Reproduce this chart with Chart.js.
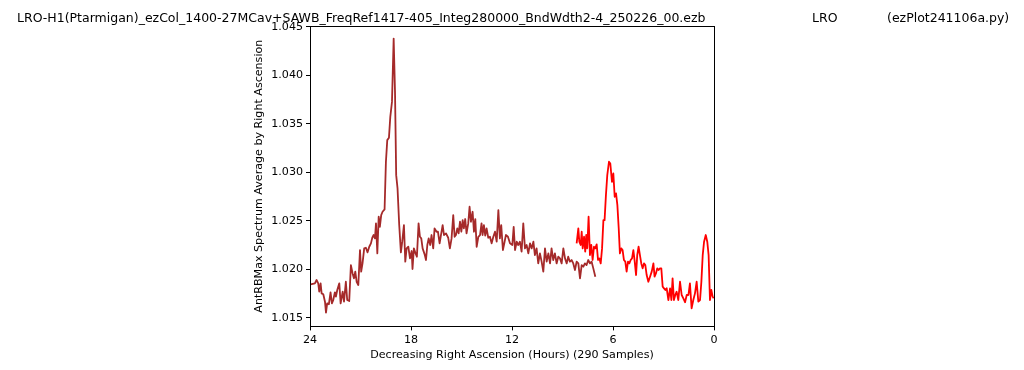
<!DOCTYPE html>
<html>
<head>
<meta charset="utf-8">
<script src="https://cdn.jsdelivr.net/npm/chart.js"></script>
<style>
  html, body { margin: 0; padding: 0; background: #fff; }
  #wrap { width: 1024px; height: 370px; }
</style>
</head>
<body>
<div id="wrap"><canvas id="raChart" width="1024" height="370"></canvas></div>
<script>
// Figure title pieces
const titleMain = 'LRO-H1(Ptarmigan)_ezCol_1400-27MCav+SAWB_FreqRef1417-405_Integ280000_BndWdth2-4_250226_00.ezb';
const titleSite = 'LRO';
const titleScript = '(ezPlot241106a.py)';

const xTicks = [24, 18, 12, 6, 0];
const yTicks = [1.015, 1.020, 1.025, 1.030, 1.035, 1.040, 1.045];

// Brown trace (hours, value)
const brownHours = [
  23.96, 23.71, 23.61, 23.51, 23.45, 23.37, 23.31, 23.21, 23.11, 23.05,
  22.98, 22.88, 22.78, 22.70, 22.62, 22.52, 22.46, 22.38, 22.26, 22.18,
  22.06, 21.98, 21.87, 21.79, 21.67, 21.57, 21.47, 21.39, 21.31, 21.23,
  21.13, 21.03, 20.96, 20.88, 20.78, 20.68, 20.58, 20.48, 20.38, 20.30,
  20.22, 20.14, 20.08, 20.00, 19.92, 19.85, 19.77, 19.69, 19.57, 19.49,
  19.41, 19.31, 19.23, 19.13, 19.03, 18.95, 18.88, 18.80, 18.70, 18.60,
  18.52, 18.42, 18.34, 18.26, 18.16, 18.06, 17.96, 17.91, 17.83, 17.73,
  17.65, 17.55, 17.47, 17.39, 17.31, 17.19, 17.11, 17.03, 16.95, 16.86,
  16.78, 16.68, 16.60, 16.48, 16.40, 16.30, 16.22, 16.12, 16.04, 15.92,
  15.79, 15.69, 15.59, 15.49, 15.41, 15.33, 15.25, 15.17, 15.09, 15.01,
  14.93, 14.86, 14.78, 14.70, 14.60, 14.52, 14.44, 14.34, 14.26, 14.18,
  14.10, 14.00, 13.90, 13.81, 13.75, 13.67, 13.59, 13.51, 13.41, 13.31,
  13.21, 13.11, 13.01, 12.91, 12.81, 12.72, 12.64, 12.54, 12.44, 12.36,
  12.24, 12.12, 11.98, 11.90, 11.82, 11.72, 11.63, 11.53, 11.43, 11.33,
  11.23, 11.13, 11.03, 10.93, 10.83, 10.73, 10.64, 10.54, 10.44, 10.34,
  10.24, 10.14, 10.04, 9.94, 9.84, 9.74, 9.65, 9.55, 9.45, 9.35,
  9.25, 9.15, 9.05, 8.95, 8.85, 8.75, 8.66, 8.56, 8.46, 8.36,
  8.26, 8.16, 8.06, 7.96, 7.86, 7.76, 7.67, 7.57, 7.47, 7.37,
  7.27, 7.17, 7.05
];
const brownValues = [
  1.01844, 1.01854, 1.01889, 1.01854, 1.01768, 1.01854, 1.01751, 1.01741, 1.01665, 1.01552,
  1.01648, 1.01638, 1.01762, 1.01648, 1.01682, 1.01762, 1.01717, 1.01786, 1.01854, 1.01648,
  1.01768, 1.01665, 1.01871, 1.01682, 1.01672, 1.02043, 1.01957, 1.01906, 1.01975, 1.01871,
  1.01837, 1.02198, 1.01975, 1.02060, 1.02215, 1.02222, 1.02174, 1.02232, 1.02267, 1.02325,
  1.02353, 1.02318, 1.02473, 1.02164, 1.02542, 1.02438, 1.02559, 1.02593, 1.02617, 1.03109,
  1.03332, 1.03356, 1.03572, 1.03727, 1.04380, 1.03830, 1.02971, 1.02834, 1.02456, 1.02174,
  1.02284, 1.02456, 1.02078, 1.02215, 1.02232, 1.02112, 1.02188, 1.02002, 1.02215, 1.02164,
  1.02129, 1.02473, 1.02335, 1.02318, 1.02215, 1.02153, 1.02095, 1.02250, 1.02318, 1.02250,
  1.02353, 1.02215, 1.02421, 1.02387, 1.02387, 1.02267, 1.02353, 1.02456, 1.02353, 1.02370,
  1.02325, 1.02215, 1.02318, 1.02559, 1.02335, 1.02353, 1.02421, 1.02370, 1.02490, 1.02387,
  1.02507, 1.02421, 1.02518, 1.02370, 1.02473, 1.02645, 1.02490, 1.02593, 1.02387, 1.02518,
  1.02232, 1.02335, 1.02353, 1.02473, 1.02353, 1.02456, 1.02346, 1.02421, 1.02325, 1.02335,
  1.02267, 1.02335, 1.02387, 1.02284, 1.02610, 1.02318, 1.02456, 1.02198, 1.02284, 1.02353,
  1.02335, 1.02267, 1.02250, 1.02438, 1.02198, 1.02284, 1.02250, 1.02284, 1.02181, 1.02473,
  1.02215, 1.02250, 1.02164, 1.02267, 1.02215, 1.02284, 1.02146, 1.02215, 1.02060, 1.02164,
  1.02078, 1.01975, 1.02215, 1.02078, 1.02164, 1.02060, 1.02215, 1.02095, 1.02164, 1.02060,
  1.02129, 1.02112, 1.02060, 1.02215, 1.02112, 1.02060, 1.02129, 1.02078, 1.02095, 1.02060,
  1.01992, 1.02078, 1.02060, 1.01906, 1.02043, 1.02026, 1.02060, 1.02043, 1.02095, 1.02060,
  1.02078, 1.02009, 1.01923
];

// Red trace (hours, value)
const redHours = [
  8.16, 8.06, 8.00, 7.92, 7.86, 7.80, 7.72, 7.65, 7.59, 7.53,
  7.45, 7.37, 7.29, 7.21, 7.13, 7.05, 6.97, 6.89, 6.81, 6.73,
  6.65, 6.57, 6.50, 6.42, 6.34, 6.24, 6.16, 6.06, 5.98, 5.90,
  5.82, 5.74, 5.66, 5.59, 5.51, 5.43, 5.35, 5.27, 5.19, 5.11,
  5.03, 4.95, 4.87, 4.79, 4.71, 4.63, 4.56, 4.48, 4.40, 4.32,
  4.24, 4.16, 4.08, 4.00, 3.90, 3.80, 3.70, 3.60, 3.53, 3.45,
  3.37, 3.29, 3.21, 3.13, 3.05, 2.97, 2.89, 2.81, 2.71, 2.61,
  2.53, 2.46, 2.38, 2.30, 2.22, 2.12, 2.02, 1.92, 1.82, 1.72,
  1.62, 1.52, 1.43, 1.33, 1.23, 1.13, 1.03, 0.93, 0.83, 0.75,
  0.67, 0.59, 0.49, 0.40, 0.32, 0.24, 0.16, 0.08, 0.02
];
const redValues = [
  1.02267, 1.02421, 1.02284, 1.02250, 1.02387, 1.02215, 1.02335, 1.02181, 1.02353, 1.02215,
  1.02542, 1.02146, 1.02250, 1.02095, 1.02232, 1.02215, 1.02257, 1.02095, 1.02112, 1.02060,
  1.02215, 1.02507, 1.02507, 1.02765, 1.02971, 1.03109, 1.03091, 1.02902, 1.02988, 1.02748,
  1.02782, 1.02662, 1.02421, 1.02164, 1.02215, 1.02198, 1.02095, 1.02078, 1.01975, 1.02078,
  1.02060, 1.02095, 1.02112, 1.02198, 1.02078, 1.01940, 1.02146, 1.02232, 1.02146, 1.02060,
  1.02009, 1.02060, 1.02043, 1.01940, 1.01871, 1.01923, 1.01975, 1.02060, 1.01923, 1.01957,
  1.02009, 1.01992, 1.02009, 1.02009, 1.01820, 1.01803, 1.01786, 1.01803, 1.01682, 1.01803,
  1.01682, 1.01906, 1.01682, 1.01734, 1.01768, 1.01682, 1.01871, 1.01734, 1.01700, 1.01659,
  1.01734, 1.01734, 1.01854, 1.01597, 1.01682, 1.01751, 1.01871, 1.01665, 1.01682, 1.01871,
  1.02146, 1.02284, 1.02353, 1.02284, 1.02146, 1.01682, 1.01786, 1.01717, 1.01700
];

const FONT = 'DejaVu Sans';

// matplotlib-style box round the axes plus the figure title
const frameAndTitle = {
  id: 'frameAndTitle',
  afterDraw(chart) {
    const { ctx, chartArea: a } = chart;
    ctx.save();
    ctx.strokeStyle = '#000';
    ctx.lineWidth = 1;
    const l = Math.round(a.left) + 0.5, r = Math.round(a.right) + 0.5;
    const t = Math.round(a.top) + 0.5, b = Math.round(a.bottom) + 0.5;
    ctx.strokeRect(l, t, r - l, b - t);

    ctx.fillStyle = '#000';
    ctx.font = `12.5px "${FONT}"`;
    ctx.textAlign = 'left';
    ctx.textBaseline = 'alphabetic';
    ctx.fillText(titleMain, 17, 22);
    ctx.fillText(titleSite, 812, 22);
    ctx.fillText(titleScript, 887, 22);
    ctx.restore();
  }
};

const toPoints = (xs, ys) => xs.map((x, i) => ({ x, y: ys[i] }));

new Chart(document.getElementById('raChart'), {
  type: 'line',
  data: {
    datasets: [
      {
        label: 'red',
        data: toPoints(redHours, redValues),
        borderColor: '#ff0000',
        backgroundColor: '#ff0000',
        borderWidth: 1.8,
        pointRadius: 0,
        tension: 0,
        borderJoinStyle: 'round',
        order: 0
      },
      {
        label: 'brown',
        data: toPoints(brownHours, brownValues),
        borderColor: '#a52a2a',
        backgroundColor: '#a52a2a',
        borderWidth: 1.8,
        pointRadius: 0,
        tension: 0,
        borderJoinStyle: 'round',
        order: 1
      }
    ]
  },
  options: {
    responsive: false,
    animation: false,
    layout: { padding: { left: 247, right: 310, top: 26, bottom: 0 } },
    plugins: {
      legend: { display: false },
      tooltip: { enabled: false }
    },
    scales: {
      x: {
        type: 'linear',
        min: 0,
        max: 24,
        reverse: true,
        afterFit: s => { s.height = 43.6; },
        afterBuildTicks: s => { s.ticks = xTicks.map(v => ({ value: v })); },
        border: { display: true, color: '#000', width: 1 },
        grid: { display: true, drawOnChartArea: false, drawTicks: true, tickLength: 4, color: '#000' },
        ticks: {
          color: '#000',
          padding: 3,
          maxRotation: 0,
          font: { family: FONT, size: 11.1 },
          callback: v => String(v)
        },
        title: {
          display: true,
          text: 'Decreasing Right Ascension (Hours) (290 Samples)',
          color: '#000',
          padding: 8,
          font: { family: FONT, size: 11.1 }
        }
      },
      y: {
        type: 'linear',
        min: 1.0141,
        max: 1.0451,
        afterFit: s => { s.width = 63; },
        afterBuildTicks: s => { s.ticks = yTicks.map(v => ({ value: v })); },
        border: { display: true, color: '#000', width: 1 },
        grid: { display: true, drawOnChartArea: false, drawTicks: true, tickLength: 4, color: '#000' },
        ticks: {
          color: '#000',
          padding: 3,
          font: { family: FONT, size: 11.1 },
          callback: v => v.toFixed(3)
        },
        title: {
          display: true,
          text: 'AntRBMax Spectrum Average by Right Ascension',
          color: '#000',
          padding: 5,
          font: { family: FONT, size: 11.1 }
        }
      }
    }
  },
  plugins: [frameAndTitle]
});
</script>
</body>
</html>
